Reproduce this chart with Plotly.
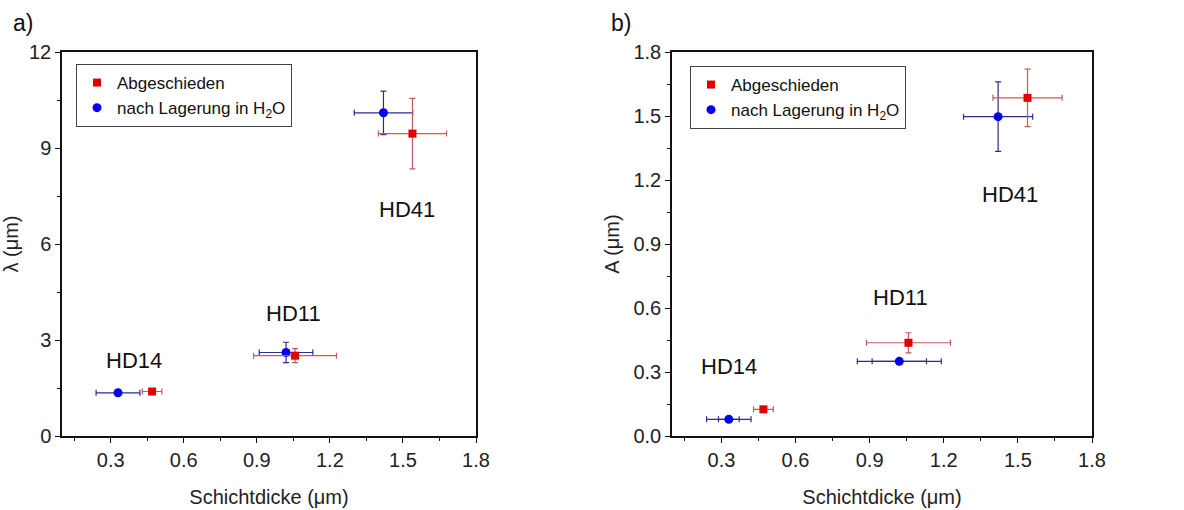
import plotly.graph_objects as go

# ---- data ----
samples = ["HD14", "HD11", "HD41"]

# thickness (um)
thick_dep = [0.47, 1.057, 1.539]
thick_dep_err = [0.04, 0.17, 0.14]
thick_h2o = [0.33, 1.02, 1.42]
thick_h2o_err = [0.09, 0.11, 0.12]
thick_h2o_err_b = [0.09, 0.17, 0.14]
thick_h2o_err_b_inner = [0.042, 0.11, 0.0]

# lambda (um)
lam_dep = [1.39, 2.51, 9.45]
lam_dep_err = [0.05, 0.22, 1.1]
lam_h2o = [1.35, 2.61, 10.1]
lam_h2o_err = [0.05, 0.32, 0.68]

# amplitude A (um)
amp_dep = [0.125, 0.437, 1.585]
amp_dep_err = [0.01, 0.047, 0.135]
amp_h2o = [0.078, 0.35, 1.497]
amp_h2o_err = [0.005, 0.005, 0.163]

# label positions
lab_x_a = [0.395, 1.051, 1.516]
lab_y_a = [2.35, 3.83, 7.09]
lab_x_b = [0.332, 1.024, 1.467]
lab_y_b = [0.325, 0.648, 1.13]

name_dep = "Abgeschieden"
name_h2o = "nach Lagerung in H<sub>2</sub>O"

RED = "#e00000"
RED_ERR = "#c65a5a"
BLUE = "#0000ee"
BLUE_ERR = "#2c2c90"
FONT = "Liberation Sans, Arial, sans-serif"

fig = go.Figure()

def add_pair(xd, xde, yd, yde, xh, xhe, yh, yhe, xa, ya, legend, show):
    fig.add_trace(go.Scatter(
        x=xh, y=yh, mode="markers", name=name_h2o, legend=legend, showlegend=show,
        marker=dict(symbol="circle", size=9, color=BLUE),
        error_x=dict(type="data", array=xhe, color=BLUE_ERR, thickness=1.2, width=3),
        error_y=dict(type="data", array=yhe, color=BLUE_ERR, thickness=1.2, width=3),
        xaxis=xa, yaxis=ya, legendrank=2))
    fig.add_trace(go.Scatter(
        x=xd, y=yd, mode="markers", name=name_dep, legend=legend, showlegend=show,
        marker=dict(symbol="square", size=8, color=RED),
        error_x=dict(type="data", array=xde, color=RED_ERR, thickness=1.2, width=3),
        error_y=dict(type="data", array=yde, color=RED_ERR, thickness=1.2, width=3),
        xaxis=xa, yaxis=ya, legendrank=1))

add_pair(thick_dep, thick_dep_err, lam_dep, lam_dep_err,
         thick_h2o, thick_h2o_err, lam_h2o, lam_h2o_err, "x", "y", "legend", True)
# inner x caps of the blue series in panel b
fig.add_trace(go.Scatter(
    x=thick_h2o, y=amp_h2o, mode="markers", showlegend=False,
    marker=dict(size=1, color="rgba(0,0,0,0)"),
    error_x=dict(type="data", array=thick_h2o_err_b_inner, color=BLUE_ERR, thickness=1.2, width=3),
    xaxis="x2", yaxis="y2", hoverinfo="skip"))
add_pair(thick_dep, thick_dep_err, amp_dep, amp_dep_err,
         thick_h2o, thick_h2o_err_b, amp_h2o, amp_h2o_err, "x2", "y2", "legend2", True)

for s, xx, yy in zip(samples, lab_x_a, lab_y_a):
    fig.add_annotation(x=xx, y=yy, xref="x", yref="y", text=s, showarrow=False,
                       font=dict(size=22, color="#111", family=FONT))
for s, xx, yy in zip(samples, lab_x_b, lab_y_b):
    fig.add_annotation(x=xx, y=yy, xref="x2", yref="y2", text=s, showarrow=False,
                       font=dict(size=22, color="#111", family=FONT))

fig.add_annotation(x=11/1184, y=1 - 23/510, xref="paper", yref="paper", text="a)",
                   showarrow=False, xanchor="left", yanchor="middle",
                   font=dict(size=23, color="#111", family=FONT))
fig.add_annotation(x=609/1184, y=1 - 23/510, xref="paper", yref="paper", text="b)",
                   showarrow=False, xanchor="left", yanchor="middle",
                   font=dict(size=23, color="#111", family=FONT))

axis_common = dict(showline=True, linecolor="#111", linewidth=1.5, mirror=True,
                   ticks="outside", ticklen=5, tickwidth=1.2, tickcolor="#111",
                   showgrid=False, zeroline=False, automargin=False,
                   tickfont=dict(size=20, color="#222", family=FONT),
                   title_font=dict(size=20, color="#222", family=FONT))

ydom = [(510 - 436) / 510, (510 - 52) / 510]
minor_x = dict(tickvals=[0.15, 0.45, 0.75, 1.05, 1.35, 1.65], ticklen=3, ticks="outside",
               tickcolor="#111", showgrid=False)

fig.update_layout(
    template="none",
    width=1184, height=510, margin=dict(l=0, r=0, t=0, b=0, pad=0),
    paper_bgcolor="white", plot_bgcolor="white",
    font=dict(family=FONT),
    xaxis=dict(domain=[62/1184, 476/1184], range=[0.1, 1.8], tickvals=[0.3, 0.6, 0.9, 1.2, 1.5, 1.8],
               ticktext=["0.3", "0.6", "0.9", "1.2", "1.5", "1.8"], minor=minor_x,
               title=dict(text="Schichtdicke (μm)", standoff=20), anchor="y", **axis_common),
    yaxis=dict(domain=ydom, range=[0, 12], tickvals=[0, 3, 6, 9, 12],
               minor=dict(tickvals=[1.5, 4.5, 7.5, 10.5], ticklen=3, ticks="outside", tickcolor="#111", showgrid=False),
               title=dict(text="λ (μm)", standoff=6), anchor="x", **axis_common),
    xaxis2=dict(domain=[672/1184, 1092/1184], range=[0.1, 1.8], tickvals=[0.3, 0.6, 0.9, 1.2, 1.5, 1.8],
                ticktext=["0.3", "0.6", "0.9", "1.2", "1.5", "1.8"], minor=minor_x,
                title=dict(text="Schichtdicke (μm)", standoff=20), anchor="y2", **axis_common),
    yaxis2=dict(domain=ydom, range=[0, 1.8], tickvals=[0, 0.3, 0.6, 0.9, 1.2, 1.5, 1.8],
                ticktext=["0.0", "0.3", "0.6", "0.9", "1.2", "1.5", "1.8"],
                minor=dict(tickvals=[0.15, 0.45, 0.75, 1.05, 1.35, 1.65], ticklen=3, ticks="outside", tickcolor="#111", showgrid=False),
                title=dict(text="A (μm)", standoff=8), anchor="x2", **axis_common),
    legend=dict(x=76/1184, y=1 - 64/510, xanchor="left", yanchor="top",
                bordercolor="#444", borderwidth=1, bgcolor="white",
                font=dict(size=17, color="#111", family=FONT), tracegroupgap=0),
    legend2=dict(x=690/1184, y=1 - 66/510, xanchor="left", yanchor="top",
                 bordercolor="#444", borderwidth=1, bgcolor="white",
                 font=dict(size=17, color="#111", family=FONT), tracegroupgap=0),
)

fig.write_html("out.html")
